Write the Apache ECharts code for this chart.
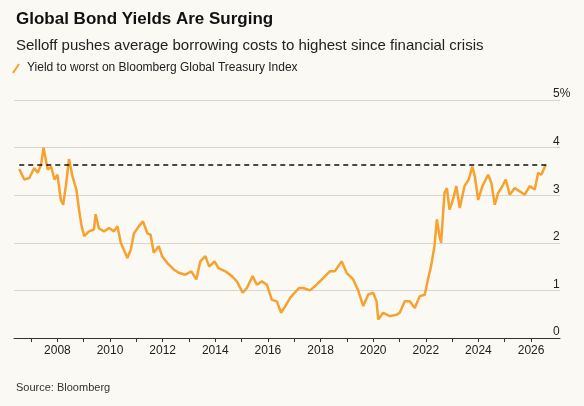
<!DOCTYPE html>
<html><head><meta charset="utf-8">
<script src="https://cdn.jsdelivr.net/npm/echarts@6/dist/echarts.min.js"></script>
<style>html,body{margin:0;background:#fbf9f4}#c{width:584px;height:406px}</style>
</head><body><div id="c"></div>
<script>
const years=[2006.55,2006.74,2006.93,2007.12,2007.25,2007.38,2007.47,2007.63,2007.76,2007.89,2008.0,2008.13,2008.22,2008.32,2008.44,2008.57,2008.72,2008.82,2008.92,2009.02,2009.2,2009.39,2009.45,2009.58,2009.77,2009.96,2010.15,2010.28,2010.41,2010.66,2010.79,2010.91,2011.1,2011.25,2011.42,2011.54,2011.66,2011.85,2011.98,2012.17,2012.42,2012.61,2012.86,2013.09,2013.28,2013.43,2013.62,2013.77,2013.97,2014.12,2014.38,2014.63,2014.82,2015.04,2015.2,2015.42,2015.58,2015.77,2015.96,2016.15,2016.34,2016.5,2016.66,2016.85,2017.18,2017.34,2017.6,2017.85,2018.1,2018.35,2018.54,2018.8,2018.99,2019.24,2019.43,2019.62,2019.81,2020.0,2020.13,2020.19,2020.38,2020.63,2020.89,2021.01,2021.2,2021.39,2021.58,2021.77,2021.96,2022.08,2022.2,2022.33,2022.42,2022.52,2022.58,2022.71,2022.8,2022.9,2023.03,2023.16,2023.29,2023.47,2023.63,2023.77,2023.86,2023.99,2024.15,2024.37,2024.49,2024.62,2024.75,2024.87,2025.04,2025.19,2025.38,2025.57,2025.76,2025.95,2026.14,2026.27,2026.39,2026.56];
const yields=[3.55,3.33,3.36,3.57,3.47,3.64,4.0,3.54,3.6,3.33,3.43,2.9,2.8,3.19,3.76,3.4,3.12,2.7,2.35,2.14,2.24,2.28,2.6,2.3,2.24,2.31,2.24,2.35,2.0,1.68,1.86,2.2,2.35,2.45,2.2,2.17,1.79,1.93,1.72,1.58,1.44,1.37,1.33,1.4,1.23,1.61,1.72,1.5,1.61,1.47,1.4,1.3,1.19,0.95,1.05,1.3,1.12,1.19,1.12,0.8,0.77,0.53,0.67,0.85,1.05,1.05,1.0,1.12,1.26,1.4,1.4,1.61,1.37,1.23,1.0,0.67,0.91,0.95,0.77,0.39,0.53,0.46,0.49,0.53,0.77,0.77,0.63,0.88,0.91,1.23,1.51,1.93,2.49,2.14,2.0,3.05,3.15,2.7,2.9,3.19,2.73,3.19,3.33,3.6,3.4,2.9,3.19,3.43,3.26,2.8,3.05,3.15,3.33,3.01,3.15,3.08,3.01,3.19,3.12,3.47,3.43,3.64];
const yearLabels=[2008,2010,2012,2014,2016,2018,2020,2022,2024,2026];
const yearTicks=[2007,2008,2009,2010,2011,2012,2013,2014,2015,2016,2017,2018,2019,2020,2021,2022,2023,2024,2025,2026];
const threshold=3.65;
const ch=echarts.init(document.getElementById('c'));
const F='Liberation Sans, Arial, sans-serif';
ch.setOption({
 backgroundColor:'#fbf9f4',
 animation:false,
 title:[{text:'Global Bond Yields Are Surging',left:11,top:6,textStyle:{fontFamily:F,fontSize:17,fontWeight:'bold',color:'#111'}},
  {text:'Selloff pushes average borrowing costs to highest since financial crisis',left:11,top:33,textStyle:{fontFamily:F,fontSize:15,fontWeight:'normal',color:'#222'}},
  {text:'Source: Bloomberg',left:11,top:377,textStyle:{fontFamily:F,fontSize:11,fontWeight:'normal',color:'#333'}}],
 graphic:[{type:'line',shape:{x1:13,y1:73,x2:19,y2:64},style:{stroke:'#f7a12f',lineWidth:2}},
  {type:'text',left:27,top:62,style:{text:'Yield to worst on Bloomberg Global Treasury Index',font:'12px '+F,fill:'#222'}}],
 grid:{left:14,right:24,top:100,bottom:68},
 xAxis:{type:'value',min:2006.35,max:2027.1,
  axisLine:{lineStyle:{color:'#333'}},
  axisTick:{show:true,customValues:yearTicks,length:4,lineStyle:{color:'#333'}},
  axisLabel:{customValues:yearLabels,formatter:v=>String(v),color:'#222',fontFamily:F,fontSize:12,margin:7},
  splitLine:{show:false}},
 yAxis:{type:'value',position:'right',min:0,max:5,interval:1,
  axisLine:{show:false},axisTick:{show:false},
  axisLabel:{inside:false,margin:-7,align:'left',verticalAlign:'bottom',color:'#222',fontFamily:F,fontSize:12,
   formatter:v=>v===5?'5%':String(v)},
  splitLine:{lineStyle:{color:'#d9d6d0'}}},
 series:[{type:'line',data:years.map((x,i)=>[x,yields[i]]),showSymbol:false,
  lineStyle:{color:'#f7a12f',width:2.5},
  markLine:{silent:true,symbol:'none',label:{show:false},lineStyle:{color:'#111',type:[5,4],width:1.5},
   data:[[{coord:[2006.55,threshold]},{coord:[2026.6,threshold]}]]}}]
});
</script></body></html>
